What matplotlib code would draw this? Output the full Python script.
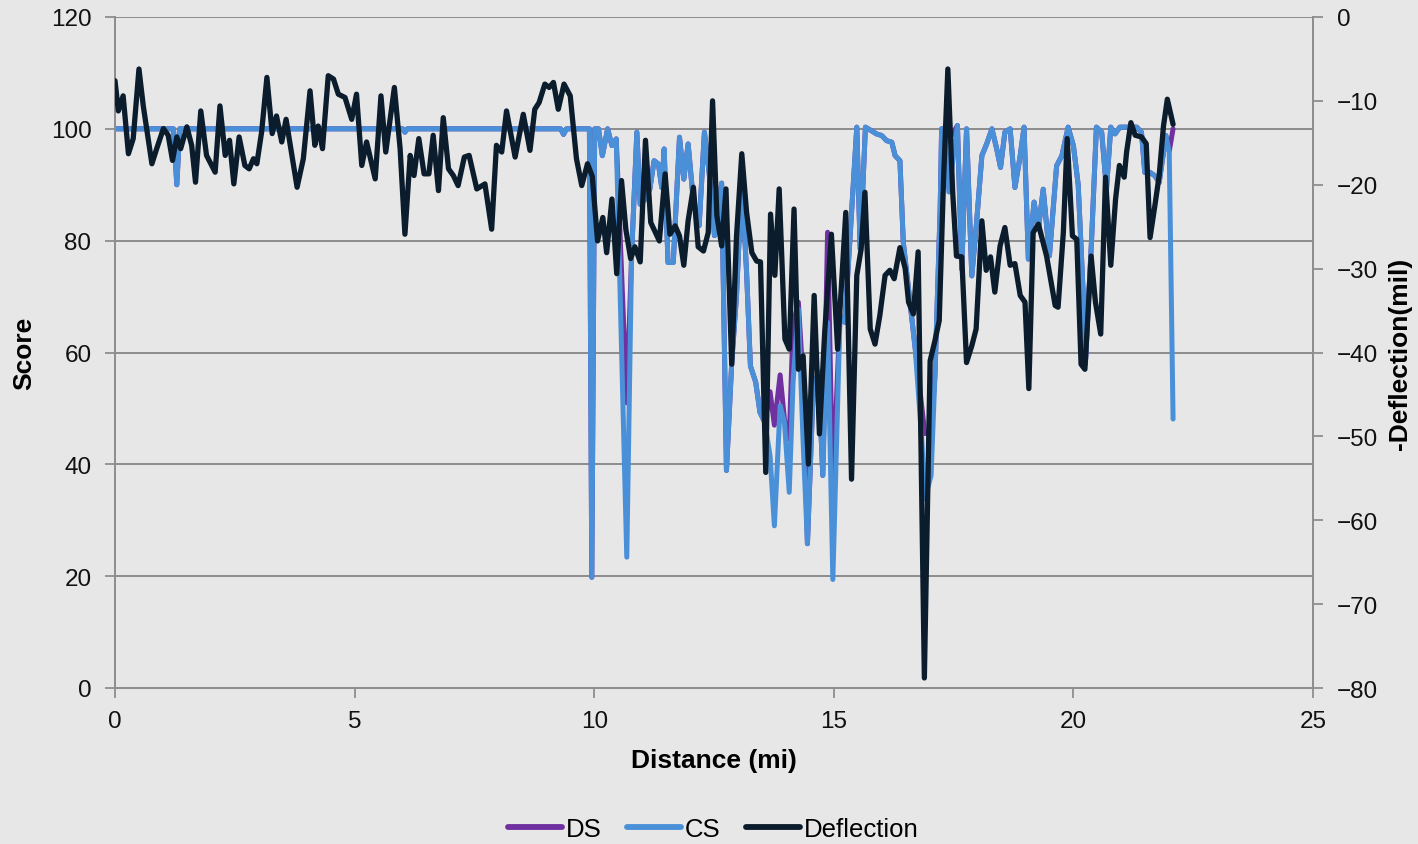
import matplotlib
matplotlib.use("Agg")
import matplotlib.pyplot as plt
from matplotlib.lines import Line2D

plt.rcParams['font.family'] = ['Liberation Sans', 'DejaVu Sans']

# ---------------- data ----------------
score_dist = [
    0.00, 1.22, 1.29, 1.35, 6.00, 6.05, 6.10, 9.30, 9.36, 9.42,
    9.90, 9.95, 10.01, 10.09, 10.17, 10.28, 10.37, 10.46, 10.68, 10.78,
    10.89, 10.96, 11.06, 11.16, 11.25, 11.34, 11.41, 11.46, 11.54, 11.65,
    11.78, 11.87, 11.96, 12.07, 12.19, 12.30, 12.40, 12.51, 12.66, 12.76,
    12.87, 12.97, 13.08, 13.18, 13.26, 13.37, 13.46, 13.56, 13.67, 13.76,
    13.88, 13.97, 14.07, 14.15, 14.26, 14.36, 14.45, 14.57, 14.68, 14.77,
    14.87, 14.98, 15.13, 15.23, 15.48, 15.55, 15.66, 15.72, 15.89, 16.00,
    16.10, 16.21, 16.28, 16.38, 16.45, 16.59, 16.70, 16.84, 16.90, 17.03,
    17.11, 17.22, 17.25, 17.32, 17.40, 17.58, 17.67, 17.77, 17.88, 17.98,
    18.09, 18.19, 18.30, 18.40, 18.48, 18.57, 18.68, 18.78, 18.89, 18.97,
    19.06, 19.18, 19.27, 19.37, 19.50, 19.65, 19.76, 19.89, 20.00, 20.10,
    20.20, 20.25, 20.38, 20.48, 20.59, 20.69, 20.78, 20.87, 20.97, 21.32,
    21.42, 21.49, 21.60, 21.70, 21.79, 21.93, 22.00, 22.08,
]

cs = [
    100, 100, 90, 100, 100, 99.4, 100, 100, 99, 100,
    100, 19.8, 100, 100, 95.2, 100, 97, 98.2, 23.4, 77.3,
    99.4, 86.5, 87.4, 89.2, 94.3, 93.7, 89.5, 96.4, 76.1, 76.1,
    98.5, 91, 97.3, 87, 82.7, 99.4, 92, 80.9, 90.3, 38.9,
    58.2, 70.2, 91, 74.3, 57.6, 54.7, 49.3, 47.5, 41.5, 29,
    50.5, 47.5, 35, 54.7, 67.8, 43.9, 25.8, 53.5, 56.5, 38,
    65.4, 19.4, 66.6, 65.4, 100.3, 78.5, 100.3, 100, 99.1, 98.8,
    97.9, 97.6, 95.2, 94.3, 79.7, 69, 60.6, 43.9, 33.8, 38,
    55.8, 85.7, 100, 100, 88.7, 100.6, 74.9, 100, 73.7, 83.3,
    95.2, 97.3, 100, 96.4, 93.1, 99.4, 100, 89.5, 95.2, 100.3,
    76.7, 86.9, 82.1, 89.2, 77.3, 93.4, 95.2, 100.3, 97, 90,
    71.4, 58, 80.3, 100.3, 99.4, 89.2, 100.3, 99.1, 100.3, 100.3,
    99.4, 92.2, 92.2, 91.6, 90.4, 98.8, 95.8, 48.1,
]

ds = [
    100, 100, 90, 100, 100, 99.4, 100, 100, 99, 100,
    100, 19.8, 100, 100, 95.2, 100, 97, 98.2, 51, 77.3,
    99.4, 86.5, 87.4, 89.2, 94.3, 93.7, 89.5, 96.4, 76.1, 76.1,
    98.5, 91, 97.3, 87, 82.7, 99.4, 92, 80.9, 90.3, 38.9,
    58.2, 70.2, 91, 74.3, 57.6, 54.7, 49.3, 47.5, 53, 47,
    56, 48, 44.5, 65, 69, 55, 25.8, 53.5, 56.5, 38,
    81.5, 36, 66.6, 65.4, 100.3, 78.5, 100.3, 100, 99.1, 98.8,
    97.9, 97.6, 95.2, 94.3, 79.7, 69, 60.6, 50, 45.5, 46,
    55.8, 85.7, 100, 100, 98, 100.6, 74.9, 100, 73.7, 83.3,
    95.2, 97.3, 100, 96.4, 93.1, 99.4, 100, 89.5, 95.2, 100.3,
    76.7, 86.9, 82.1, 89.2, 77.3, 93.4, 95.2, 100.3, 97, 90,
    71.4, 58, 80.3, 100.3, 99.4, 89.2, 100.3, 99.1, 100.3, 100.3,
    99.4, 92.2, 92.2, 91.6, 90.4, 98.8, 96, 100,
]

defl_dist = [
    0.00, 0.07, 0.17, 0.28, 0.38, 0.50, 0.59, 0.77, 0.87, 1.01,
    1.11, 1.20, 1.29, 1.37, 1.50, 1.60, 1.68, 1.79, 1.91, 2.09,
    2.19, 2.30, 2.39, 2.48, 2.59, 2.71, 2.80, 2.89, 2.96, 3.06,
    3.17, 3.28, 3.37, 3.48, 3.57, 3.80, 3.93, 4.07, 4.17, 4.24,
    4.33, 4.45, 4.56, 4.66, 4.80, 4.94, 5.04, 5.15, 5.25, 5.43,
    5.55, 5.65, 5.83, 5.95, 6.05, 6.16, 6.24, 6.34, 6.45, 6.55,
    6.64, 6.75, 6.85, 6.96, 7.06, 7.16, 7.29, 7.39, 7.55, 7.72,
    7.86, 7.96, 8.07, 8.17, 8.35, 8.52, 8.66, 8.76, 8.85, 8.97,
    9.06, 9.15, 9.25, 9.37, 9.50, 9.63, 9.74, 9.86, 9.96, 10.07,
    10.18, 10.26, 10.37, 10.47, 10.57, 10.66, 10.76, 10.85, 10.96, 11.07,
    11.18, 11.36, 11.48, 11.58, 11.69, 11.78, 11.87, 11.96, 12.07, 12.17,
    12.28, 12.38, 12.47, 12.56, 12.66, 12.75, 12.87, 12.97, 13.08, 13.18,
    13.29, 13.39, 13.47, 13.58, 13.68, 13.77, 13.86, 13.98, 14.07, 14.17,
    14.26, 14.36, 14.47, 14.59, 14.70, 14.81, 14.95, 15.08, 15.25, 15.37,
    15.48, 15.57, 15.65, 15.76, 15.86, 15.96, 16.07, 16.17, 16.26, 16.38,
    16.49, 16.56, 16.66, 16.76, 16.89, 17.01, 17.11, 17.20, 17.29, 17.38,
    17.48, 17.56, 17.67, 17.77, 17.88, 17.97, 18.09, 18.18, 18.27, 18.36,
    18.47, 18.57, 18.68, 18.78, 18.89, 18.99, 19.07, 19.16, 19.27, 19.44,
    19.62, 19.68, 19.79, 19.87, 19.98, 20.07, 20.16, 20.24, 20.37, 20.46,
    20.57, 20.67, 20.78, 20.88, 20.96, 21.06, 21.11, 21.20, 21.29, 21.42,
    21.52, 21.60, 21.70, 21.79, 21.88, 21.96, 22.08,
]

deflection = [
    -7.6, -11.2, -9.4, -16.3, -14.5, -6.2, -10.6, -17.5, -15.7, -13.3,
    -14.1, -17.1, -14.3, -15.7, -13.1, -15.3, -19.7, -11.2, -16.5, -18.5,
    -10.6, -16.5, -14.7, -19.9, -14.3, -17.7, -18.1, -16.9, -17.5, -13.7,
    -7.2, -13.9, -11.8, -14.9, -12.2, -20.3, -16.9, -8.8, -15.3, -13.0,
    -15.7, -7.0, -7.4, -9.2, -9.6, -12.2, -9.2, -17.7, -14.9, -19.3,
    -9.4, -16.1, -8.4, -15.7, -25.9, -16.5, -18.9, -14.5, -18.7, -18.7,
    -14.1, -20.7, -12.0, -18.1, -18.9, -20.1, -16.7, -16.5, -20.5, -19.9,
    -25.3, -15.3, -16.1, -11.2, -16.7, -11.6, -15.9, -11.0, -10.2, -8.0,
    -8.4, -7.8, -11.0, -8.0, -9.4, -16.9, -20.1, -17.5, -19.0, -26.7,
    -23.9, -28.1, -21.7, -30.6, -19.5, -25.3, -28.8, -27.4, -29.2, -14.7,
    -24.5, -26.7, -18.7, -25.9, -24.9, -26.1, -29.6, -24.3, -20.3, -27.4,
    -27.9, -25.7, -10.0, -23.7, -27.3, -20.5, -41.4, -26.1, -16.3, -23.3,
    -28.1, -29.1, -29.2, -54.3, -23.5, -30.8, -20.5, -38.4, -39.6, -22.9,
    -42.0, -40.4, -53.3, -33.2, -49.7, -37.6, -25.9, -39.6, -23.3, -55.1,
    -30.8, -27.7, -20.9, -37.2, -39.0, -35.6, -30.8, -30.2, -31.2, -27.5,
    -30.0, -34.0, -35.4, -28.0, -78.8, -41.0, -38.6, -36.2, -19.4, -6.2,
    -20.8, -28.5, -28.6, -41.2, -39.2, -37.2, -24.3, -30.2, -28.6, -32.8,
    -27.3, -25.1, -29.6, -29.4, -33.2, -34.0, -44.3, -25.7, -24.7, -28.5,
    -34.4, -34.6, -25.7, -14.5, -26.1, -26.5, -41.4, -42.0, -28.5, -34.0,
    -37.8, -19.1, -29.6, -21.7, -17.7, -19.1, -16.1, -12.6, -14.1, -14.3,
    -15.1, -26.3, -22.5, -18.9, -13.0, -9.8, -12.8,
]

x_ticks = [0, 5, 10, 15, 20, 25]
score_ticks = [0, 20, 40, 60, 80, 100, 120]
defl_ticks = [-80, -70, -60, -50, -40, -30, -20, -10, 0]

# ---------------- style ----------------
BG = '#E7E7E7'
GRID = '#8C8C8C'
SPINE = '#8E8E8E'
C_DS = '#7030A0'
C_CS = '#4A90D9'
C_DEF = '#0B1C2C'
LW = 3.6
TICK_FS = 17.5
LABEL_FS = 19

fig = plt.figure(figsize=(14.18, 8.45), dpi=100, facecolor=BG)
ax = fig.add_axes([115 / 1418, 1 - 689 / 845, 1198 / 1418, 671 / 845])
ax.set_facecolor(BG)
ax2 = ax.twinx()

ax.plot(score_dist, ds, color=C_DS, lw=LW, solid_joinstyle='round',
        solid_capstyle='round', zorder=3)
ax.plot(score_dist, cs, color=C_CS, lw=LW, solid_joinstyle='round',
        solid_capstyle='round', zorder=4)
ax2.plot(defl_dist, deflection, color=C_DEF, lw=LW + 0.2,
         solid_joinstyle='round', solid_capstyle='round', zorder=5)

ax.set_xlim(0, 25)
ax.set_ylim(0, 120)
ax2.set_ylim(-80, 0)
ax.set_xticks(x_ticks)
ax.set_yticks(score_ticks)
ax2.set_yticks(defl_ticks)

ax.yaxis.grid(True, color=GRID, lw=1.4)
ax.set_axisbelow(True)

for a in (ax, ax2):
    for side in ('left', 'right', 'bottom'):
        a.spines[side].set_color(SPINE)
        a.spines[side].set_linewidth(1.4)
    a.spines['top'].set_visible(False)

ax.tick_params(axis='y', direction='out', length=7, width=1.3, color=SPINE,
               labelsize=TICK_FS, pad=10, labelcolor='#111111')
ax.tick_params(axis='x', direction='out', length=7, width=1.3, color=SPINE,
               labelsize=TICK_FS, pad=9, labelcolor='#111111')
ax2.tick_params(axis='y', direction='out', length=7, width=1.3, color=SPINE,
                labelsize=TICK_FS, pad=10, labelcolor='#111111')

ax.set_xlabel('Distance (mi)', fontsize=LABEL_FS, fontweight='bold')
ax.set_ylabel('Score', fontsize=LABEL_FS, fontweight='bold')
ax2.set_ylabel('-Deflection(mil)', fontsize=LABEL_FS, fontweight='bold')
ax.xaxis.set_label_coords(0.5, -0.09)
ax.yaxis.set_label_coords(-0.066, 0.5)
ax2.yaxis.set_label_coords(1.063, 0.5)

handles = [Line2D([], [], color=C_DS, lw=4.2, solid_capstyle='round'),
           Line2D([], [], color=C_CS, lw=4.2, solid_capstyle='round'),
           Line2D([], [], color=C_DEF, lw=4.2, solid_capstyle='round')]
fig.legend(handles, ['DS', 'CS', 'Deflection'], loc='center',
           bbox_to_anchor=(0.503, 0.018), ncol=3, frameon=False,
           fontsize=18.5, handlelength=2.1, handletextpad=0.15,
           columnspacing=1.0)

fig.savefig('out.png', dpi=100, facecolor=BG)
